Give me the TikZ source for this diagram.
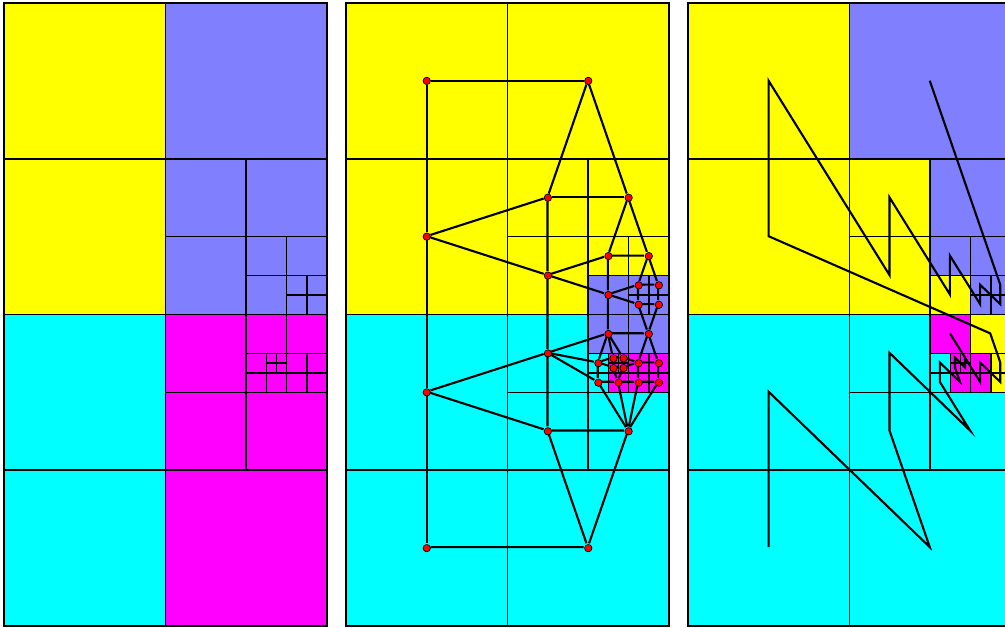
\documentclass[tikz,border=0pt]{standalone}
\usepackage{tikz}
\definecolor{qyellow}{HTML}{FFFF00}
\definecolor{qblue}{HTML}{8080FF}
\definecolor{qmagenta}{HTML}{FF00FF}
\definecolor{qcyan}{HTML}{00FFFF}

% leaves in curve order: u/v/size/colour left/middle/right
\newcommand{\leaves}{%
  0/3/1/qcyan/qcyan/qcyan,
  0/2/1/qcyan/qcyan/qcyan,
  1/3/1/qmagenta/qcyan/qcyan,
  1/2.5/.5/qmagenta/qcyan/qcyan,
  1/2/.5/qmagenta/qcyan/qcyan,
  1.5/2.5/.5/qmagenta/qcyan/qcyan,
  1.5/2.375/.125/qmagenta/qcyan/qcyan,
  1.5/2.25/.125/qmagenta/qcyan/qcyan,
  1.625/2.375/.125/qmagenta/qmagenta/qmagenta,
  1.625/2.3125/.0625/qmagenta/qmagenta/qmagenta,
  1.625/2.25/.0625/qmagenta/qmagenta/qmagenta,
  1.6875/2.3125/.0625/qmagenta/qmagenta/qmagenta,
  1.6875/2.25/.0625/qmagenta/qmagenta/qmagenta,
  1.5/2/.25/qmagenta/qblue/qmagenta,
  1.75/2.375/.125/qmagenta/qmagenta/qmagenta,
  1.75/2.25/.125/qmagenta/qmagenta/qmagenta,
  1.875/2.375/.125/qmagenta/qmagenta/qyellow,
  1.875/2.25/.125/qmagenta/qmagenta/qyellow,
  1.75/2/.25/qmagenta/qblue/qyellow,
  0/1/1/qyellow/qyellow/qyellow,
  0/0/1/qyellow/qyellow/qyellow,
  1/1.5/.5/qblue/qyellow/qyellow,
  1/1/.5/qblue/qyellow/qyellow,
  1.5/1.75/.25/qblue/qblue/qyellow,
  1.5/1.5/.25/qblue/qyellow/qblue,
  1.75/1.875/.125/qblue/qblue/qblue,
  1.75/1.75/.125/qblue/qblue/qblue,
  1.875/1.875/.125/qblue/qblue/qblue,
  1.875/1.75/.125/qblue/qblue/qblue,
  1.75/1.5/.25/qblue/qyellow/qblue,
  1.5/1/.5/qblue/qyellow/qblue,
  1/0/1/qblue/qyellow/qblue}

\begin{document}
\begin{tikzpicture}[x=0.02cm,y=-0.02cm,
    cell/.style={draw=black,line width=0.9pt},
    dot/.style={circle,draw=black,fill=red,line width=0.4pt,inner sep=0pt,minimum size=4.2pt},
    link/.style={line width=1.2pt},
    sfc/.style={line width=1.2pt}
]
\clip (0,0) rectangle (1005,627);
\fill[white] (0,0) rectangle (1005,627);

% left: quadtree by coarse cell
\begin{scope}[shift={(4,3)},xscale=161.5,yscale=155.75]
  \foreach \px/\py/\sz/\ca/\cb/\cc in \leaves
    \fill[\ca] (\px,\py) rectangle ++(\sz,\sz);
  \foreach \px/\py/\sz/\ca/\cb/\cc in \leaves
    \draw[cell] (\px,\py) rectangle ++(\sz,\sz);
\end{scope}

% middle: neighbour graph
\begin{scope}[shift={(346,3)},xscale=161.5,yscale=155.75]
  \foreach \px/\py/\sz/\ca/\cb/\cc in \leaves
    \fill[\cb] (\px,\py) rectangle ++(\sz,\sz);
  \foreach \px/\py/\sz/\ca/\cb/\cc [count=\i] in \leaves {
    \draw[cell] (\px,\py) rectangle ++(\sz,\sz);
    \node[dot] (d\i) at ({\px+\sz/2},{\py+\sz/2}) {};
  }
  \foreach \a/\b in {1/2,1/3,2/4,2/5,2/20,3/4,3/6,4/5,4/6,5/22,5/14,5/8,5/7,
      6/7,6/9,6/15,6/17,7/8,7/9,8/14,8/10,8/11,9/10,9/12,9/15,10/11,10/12,
      11/14,11/13,12/13,12/16,13/14,13/16,14/24,14/19,15/16,15/17,16/19,16/18,
      17/18,18/19,19/26,19/28,20/23,20/22,20/21,21/32,22/23,22/25,22/24,
      23/32,23/31,24/25,24/27,24/26,25/31,25/30,26/27,26/28,27/30,27/29,
      28/29,29/30,30/31,31/32}
    \draw[link] (d\a) -- (d\b);
\end{scope}

% right: curve through the leaves
\begin{scope}[shift={(688,3)},xscale=161.5,yscale=155.75]
  \foreach \px/\py/\sz/\ca/\cb/\cc in \leaves
    \fill[\cc] (\px,\py) rectangle ++(\sz,\sz);
  \foreach \px/\py/\sz/\ca/\cb/\cc [count=\i] in \leaves {
    \draw[cell] (\px,\py) rectangle ++(\sz,\sz);
    \coordinate (c\i) at ({\px+\sz/2},{\py+\sz/2});
  }
  \draw[sfc] (c1) \foreach \i in {2,...,32} { -- (c\i) };
\end{scope}
\end{tikzpicture}
\end{document}
